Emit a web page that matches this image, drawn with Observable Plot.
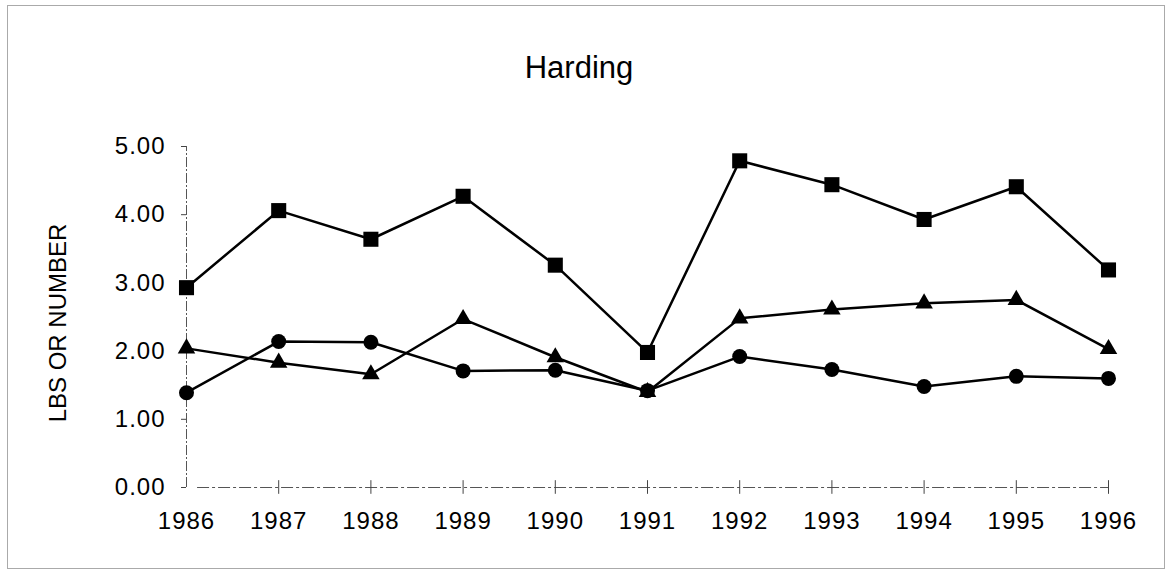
<!DOCTYPE html>
<html>
<head>
<meta charset="utf-8">
<script src="https://cdn.jsdelivr.net/npm/d3@7"></script>
<script src="https://cdn.jsdelivr.net/npm/@observablehq/plot@0.6"></script>
<style>
  html, body { margin: 0; padding: 0; background: #fff; }
  #wrap { position: relative; width: 1170px; height: 580px; overflow: hidden; font-family: "Liberation Sans", Arial, sans-serif; background: #fff; }
  #frame { position: absolute; left: 7px; top: 5px; width: 1158px; height: 564px; border: 1px solid #aaa; box-sizing: border-box; pointer-events: none; z-index: 5; }
  #title { position: absolute; left: 0; top: 0; width: 1170px; height: 100px; text-align: center; font-size: 31px; line-height: 31px; padding-top: 52px; box-sizing: border-box; color: #000; padding-right: 12px; }
  #chart { position: absolute; left: 0; top: 100px; }
</style>
</head>
<body>
<div id="wrap">
  <div id="frame"></div>
  <div id="title">Harding</div>
  <div id="chart"></div>
</div>
<script>
const years = [1986, 1987, 1988, 1989, 1990, 1991, 1992, 1993, 1994, 1995, 1996];
const squareSeries = [2.93, 4.06, 3.64, 4.27, 3.26, 1.98, 4.79, 4.44, 3.93, 4.41, 3.19];
const triangleSeries = [2.04, 1.83, 1.66, 2.47, 1.91, 1.40, 2.48, 2.61, 2.70, 2.75, 2.03];
const circleSeries = [1.39, 2.14, 2.13, 1.71, 1.72, 1.42, 1.92, 1.73, 1.48, 1.63, 1.60];
const yTicks = [0, 1, 2, 3, 4, 5];
const yLabel = "LBS OR NUMBER";

const rows = (vals, name) => years.map((y, i) => ({year: y, value: vals[i], series: name}));
const sq = rows(squareSeries, "square");
const tr = rows(triangleSeries, "triangle");
const ci = rows(circleSeries, "circle");

const plot = Plot.plot({
  width: 1170,
  height: 480,
  marginLeft: 186,
  marginRight: 62,
  marginTop: 46,
  marginBottom: 93,
  style: {fontFamily: "'Liberation Sans', Arial, sans-serif", background: "transparent", color: "#000"},
  x: {domain: [1986, 1996]},
  y: {domain: [0, 5]},
  marks: [
    Plot.ruleX([1986], {y1: 0, y2: 5, stroke: "#555", strokeWidth: 1, strokeDasharray: "10,2,2,2"}),
    Plot.ruleY([0], {x1: 1986.12, x2: 1996, stroke: "#555", strokeWidth: 1, strokeDasharray: "12,3,3,3"}),
    Plot.ruleX(years.slice(1), {x: d => d, y1: -0.1, y2: 0.1, stroke: "#444", strokeWidth: 1}),
    Plot.axisY({ticks: yTicks, tickFormat: d => d.toFixed(2), tickSize: 5, tickPadding: 16, fontSize: 24, label: null, stroke: "#444"}),
    Plot.axisX({ticks: years, tickFormat: d => String(d), tickSize: 0, tickPadding: 24, fontSize: 24, label: null}),
    Plot.text([yLabel], {frameAnchor: "left", textAnchor: "middle", lineAnchor: "middle", dx: -128, dy: 6, rotate: -90, fontSize: 24, text: d => d, fill: "#000"}),
    Plot.line(sq, {x: "year", y: "value", stroke: "#000", strokeWidth: 2.5}),
    Plot.line(tr, {x: "year", y: "value", stroke: "#000", strokeWidth: 2.5}),
    Plot.line(ci, {x: "year", y: "value", stroke: "#000", strokeWidth: 2.5}),
    Plot.dot(sq, {x: "year", y: "value", symbol: "square", r: 8.5, fill: "#000", stroke: "none"}),
    Plot.dot(tr, {x: "year", y: "value", symbol: "triangle", r: 6.5, fill: "#000", stroke: "none"}),
    Plot.dot(ci, {x: "year", y: "value", symbol: "circle", r: 7.5, fill: "#000", stroke: "none"})
  ]
});
plot.querySelectorAll("g[aria-label='x-axis tick label'] text, g[aria-label='y-axis tick label'] text").forEach(t => t.style.letterSpacing = "1px");
document.getElementById("chart").appendChild(plot);
</script>
</body>
</html>
